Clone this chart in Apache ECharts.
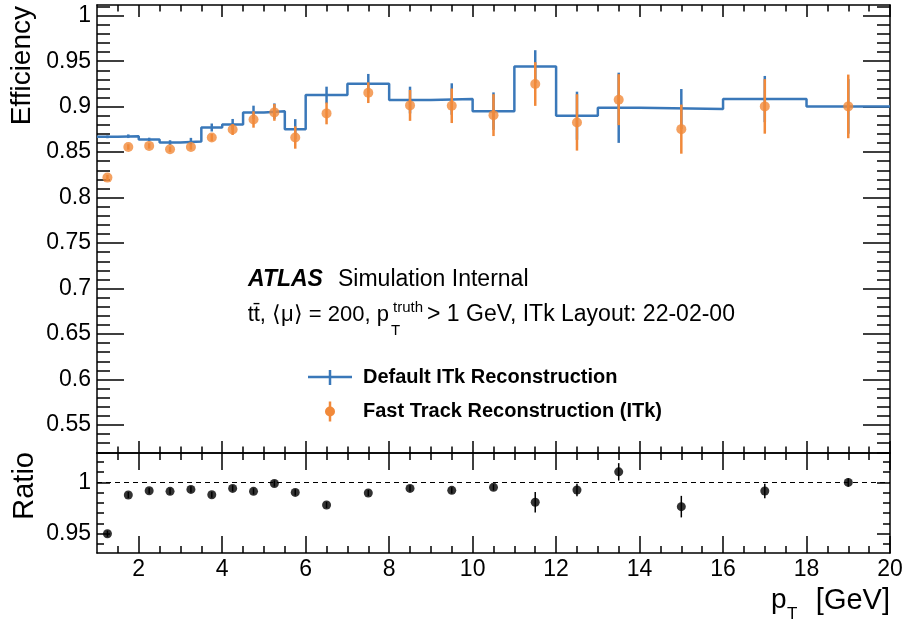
<!DOCTYPE html>
<html>
<head>
<meta charset="utf-8">
<script src="https://cdn.jsdelivr.net/npm/echarts@6/dist/echarts.min.js"></script>
<style>
  html, body { margin: 0; padding: 0; background: #ffffff; }
  #chart { width: 907px; height: 623px; }
</style>
</head>
<body>
<div id="chart"></div>
<script>
// pT bin edges [GeV]
const binEdges = [1, 1.5, 2, 2.5, 3, 3.5, 4, 4.5, 5, 5.5, 6, 7, 8, 9, 10, 11, 12, 13, 14, 16, 18, 20];

// Default ITk reconstruction efficiency per bin
const defaultEff = [0.8668, 0.8675, 0.8639, 0.8605, 0.8617, 0.8771, 0.8805, 0.8937, 0.8951, 0.8753,
                    0.9128, 0.9253, 0.9073, 0.9084, 0.8951, 0.9441, 0.8900, 0.8988, 0.8974, 0.9084, 0.9003];
const defaultErr = [0.0015, 0.002, 0.002, 0.0026, 0.004, 0.0044, 0.006, 0.0074, 0.0085, 0.011,
                    0.0092, 0.0107, 0.0147, 0.0173, 0.0206, 0.018, 0.0265, 0.0386, 0.022, 0.0254, 0.030];

// Fast track reconstruction efficiency per bin
const fastEff = [0.822, 0.8557, 0.8569, 0.8532, 0.8557, 0.8661, 0.8749, 0.8859, 0.8937, 0.8661,
                 0.8926, 0.9154, 0.9014, 0.9010, 0.8907, 0.9249, 0.8827, 0.9077, 0.8753, 0.9003, 0.9003];
const fastErr = [0.003, 0.003, 0.003, 0.003, 0.003, 0.004, 0.006, 0.009, 0.0092, 0.0123,
                 0.012, 0.0114, 0.017, 0.019, 0.023, 0.024, 0.031, 0.028, 0.027, 0.030, 0.035];

// Fast / default ratio per bin
const ratioVal = [0.950, 0.9877, 0.9919, 0.9913, 0.9932, 0.9880, 0.9942, 0.9913, 0.9990, 0.9903,
                  0.9780, 0.9897, 0.9942, 0.9923, 0.9952, 0.9807, 0.9926, 1.0103, 0.9764, 0.9916, 1.000];
const ratioErr = [0.003, 0.003, 0.003, 0.003, 0.003, 0.003, 0.003, 0.003, 0.003, 0.003,
                  0.003, 0.003, 0.003, 0.003, 0.003, 0.010, 0.006, 0.0085, 0.0105, 0.007, 0.004];

// Axis ticks
const xMajorTicks = [2, 4, 6, 8, 10, 12, 14, 16, 18, 20];
const effMajorTicks = [0.55, 0.6, 0.65, 0.7, 0.75, 0.8, 0.85, 0.9, 0.95, 1];
const ratioMajorTicks = [0.95, 1];

function steps(from, to, step) {
  const out = [];
  for (let v = from; v <= to + 1e-9; v += step) out.push(Math.round(v * 1000) / 1000);
  return out;
}
const xMinorTicks = steps(1.5, 19.5, 0.5);
const effMinorTicks = steps(0.52, 1.01, 0.01);
const ratioMinorTicks = steps(0.94, 1.02, 0.01);

const BLUE = '#3a78b9';
const ORANGE = '#f1893a';
const FONT = '"Liberation Sans", Arial, Helvetica, sans-serif';

const centers = binEdges.slice(0, -1).map((lo, i) => (lo + binEdges[i + 1]) / 2);

// step outline of the default histogram
const stepData = defaultEff.map((v, i) => [binEdges[i], v]);
stepData.push([binEdges[binEdges.length - 1], defaultEff[defaultEff.length - 1]]);

const errData = (vals, errs) => vals.map((v, i) => [centers[i], v - errs[i], v + errs[i]]);

function errorBar(color, width) {
  return function (params, api) {
    const x = api.value(0);
    const a = api.coord([x, api.value(1)]);
    const b = api.coord([x, api.value(2)]);
    return {
      type: 'line',
      shape: { x1: a[0], y1: a[1], x2: b[0], y2: b[1] },
      style: { stroke: color, lineWidth: width }
    };
  };
}

const tickStyle = { color: '#000', width: 1.5 };

function xAxesFor(grid, withLabels, botMaj, botMin, topMaj, topMin) {
  const base = {
    type: 'value', gridIndex: grid, min: 1, max: 20,
    splitLine: { show: false }
  };
  return [
    Object.assign({}, base, {
      position: 'bottom',
      axisLine: { show: true, onZero: false, lineStyle: tickStyle },
      axisTick: { show: true, inside: true, length: botMaj, customValues: xMajorTicks, lineStyle: tickStyle },
      axisLabel: withLabels
        ? { show: true, customValues: xMajorTicks, margin: 5, fontSize: 23, color: '#000', fontFamily: FONT }
        : { show: false }
    }),
    Object.assign({}, base, {
      position: 'bottom',
      axisLine: { show: false, onZero: false },
      axisTick: { show: true, inside: true, length: botMin, customValues: xMinorTicks, lineStyle: tickStyle },
      axisLabel: { show: false }
    }),
    Object.assign({}, base, {
      position: 'top',
      axisLine: { show: true, onZero: false, lineStyle: tickStyle },
      axisTick: { show: true, inside: true, length: topMaj, customValues: xMajorTicks, lineStyle: tickStyle },
      axisLabel: { show: false }
    }),
    Object.assign({}, base, {
      position: 'top',
      axisLine: { show: false, onZero: false },
      axisTick: { show: true, inside: true, length: topMin, customValues: xMinorTicks, lineStyle: tickStyle },
      axisLabel: { show: false }
    })
  ];
}

function yAxesFor(grid, min, max, major, minor, majLen, minLen) {
  const base = { type: 'value', gridIndex: grid, min: min, max: max, splitLine: { show: false } };
  const fmt = v => String(+Number(v).toFixed(2));
  return [
    Object.assign({}, base, {
      position: 'left',
      axisLine: { show: true, onZero: false, lineStyle: tickStyle },
      axisTick: { show: true, inside: true, length: majLen, customValues: major, lineStyle: tickStyle },
      axisLabel: { show: true, customValues: major, formatter: fmt, margin: 6, fontSize: 23, color: '#000', fontFamily: FONT }
    }),
    Object.assign({}, base, {
      position: 'left',
      axisLine: { show: false, onZero: false },
      axisTick: { show: true, inside: true, length: minLen, customValues: minor, lineStyle: tickStyle },
      axisLabel: { show: false }
    }),
    Object.assign({}, base, {
      position: 'right',
      axisLine: { show: true, onZero: false, lineStyle: tickStyle },
      axisTick: { show: true, inside: true, length: majLen, customValues: major, lineStyle: tickStyle },
      axisLabel: { show: false }
    }),
    Object.assign({}, base, {
      position: 'right',
      axisLine: { show: false, onZero: false },
      axisTick: { show: true, inside: true, length: minLen, customValues: minor, lineStyle: tickStyle },
      axisLabel: { show: false }
    })
  ];
}

const chart = echarts.init(document.getElementById('chart'), null, { renderer: 'canvas' });

// text element helper
function txt(x, y, text, font, styleExtra, props) {
  return Object.assign({
    type: 'text', x: x, y: y, silent: true,
    style: Object.assign({ text: text, font: font, fill: '#000', align: 'left', verticalAlign: 'middle' }, styleExtra || {})
  }, props || {});
}
const UPRIGHT = { rotation: Math.PI / 2 };

chart.setOption({
  animation: false,
  backgroundColor: '#ffffff',
  textStyle: { fontFamily: FONT },
  grid: [
    { left: 97, right: 17, top: 5, height: 448 },
    { left: 97, right: 17, top: 453, height: 100 }
  ],
  xAxis: [].concat(
    xAxesFor(0, false, 12, 6.5, 12, 6.5),
    xAxesFor(1, true, 17, 7, 17, 7)
  ),
  yAxis: [].concat(
    yAxesFor(0, 0.5192, 1.0118, effMajorTicks, effMinorTicks, 27, 13),
    yAxesFor(1, 0.9312, 1.0287, ratioMajorTicks, ratioMinorTicks, 13, 7)
  ),
  series: [
    {
      name: 'Default ITk Reconstruction', type: 'line', xAxisIndex: 0, yAxisIndex: 0,
      data: stepData, step: 'end', showSymbol: false, symbol: 'none',
      lineStyle: { color: BLUE, width: 2.5 }, z: 2
    },
    {
      type: 'custom', xAxisIndex: 0, yAxisIndex: 0, data: errData(defaultEff, defaultErr),
      renderItem: errorBar(BLUE, 2.5), encode: { x: 0, y: [1, 2] }, z: 2
    },
    {
      type: 'custom', xAxisIndex: 0, yAxisIndex: 0, data: errData(fastEff, fastErr),
      renderItem: errorBar(ORANGE, 2.5), encode: { x: 0, y: [1, 2] }, z: 3
    },
    {
      name: 'Fast Track Reconstruction (ITk)', type: 'scatter', xAxisIndex: 0, yAxisIndex: 0,
      data: fastEff.map((v, i) => [centers[i], v]), symbol: 'circle', symbolSize: 10,
      itemStyle: { color: ORANGE }, z: 4
    },
    {
      type: 'custom', xAxisIndex: 4, yAxisIndex: 4, data: errData(ratioVal, ratioErr),
      renderItem: errorBar('#000', 1.5), encode: { x: 0, y: [1, 2] }, z: 3
    },
    {
      name: 'Ratio', type: 'scatter', xAxisIndex: 4, yAxisIndex: 4,
      data: ratioVal.map((v, i) => [centers[i], v]), symbol: 'circle', symbolSize: 9,
      itemStyle: { color: '#000' }, z: 4,
      markLine: {
        silent: true, symbol: 'none', label: { show: false },
        lineStyle: { color: '#000', width: 1, type: [5, 4] },
        data: [{ yAxis: 1 }]
      }
    }
  ],
  graphic: [
    // axis titles
    txt(22, 6, 'Efficiency', '28px ' + FONT, { align: 'right' }, UPRIGHT),
    txt(25, 452, 'Ratio', '29px ' + FONT, { align: 'right' }, UPRIGHT),
    txt(771, 600.5, 'p', '28px ' + FONT),
    txt(787, 614, 'T', '17px ' + FONT),
    txt(890, 600.5, '[GeV]', '29px ' + FONT, { align: 'right' }),
    // labels
    txt(248, 280, 'ATLAS', 'italic bold 23px ' + FONT),
    txt(338, 280, 'Simulation Internal', '23px ' + FONT),
    txt(389, 315, 'tt\u0304, \u27e8\u03bc\u27e9 = 200, p', '22px ' + FONT, { align: 'right' }),
    txt(393, 307.5, 'truth', '15px ' + FONT),
    txt(391, 331, 'T', '15px ' + FONT),
    txt(427, 315, '> 1 GeV, ITk Layout: 22-02-00', '23px ' + FONT),
    // legend
    { type: 'line', silent: true, shape: { x1: 308, y1: 377, x2: 352, y2: 377 }, style: { stroke: BLUE, lineWidth: 2.5 } },
    { type: 'line', silent: true, shape: { x1: 330, y1: 370, x2: 330, y2: 385 }, style: { stroke: BLUE, lineWidth: 2.5 } },
    txt(363, 377, 'Default ITk Reconstruction', 'bold 20px ' + FONT),
    { type: 'line', silent: true, shape: { x1: 330, y1: 401.5, x2: 330, y2: 421.5 }, style: { stroke: ORANGE, lineWidth: 2.5 } },
    { type: 'circle', silent: true, shape: { cx: 330, cy: 411.5, r: 5 }, style: { fill: ORANGE } },
    txt(363, 411.5, 'Fast Track Reconstruction (ITk)', 'bold 20px ' + FONT)
  ]
});
</script>
</body>
</html>
